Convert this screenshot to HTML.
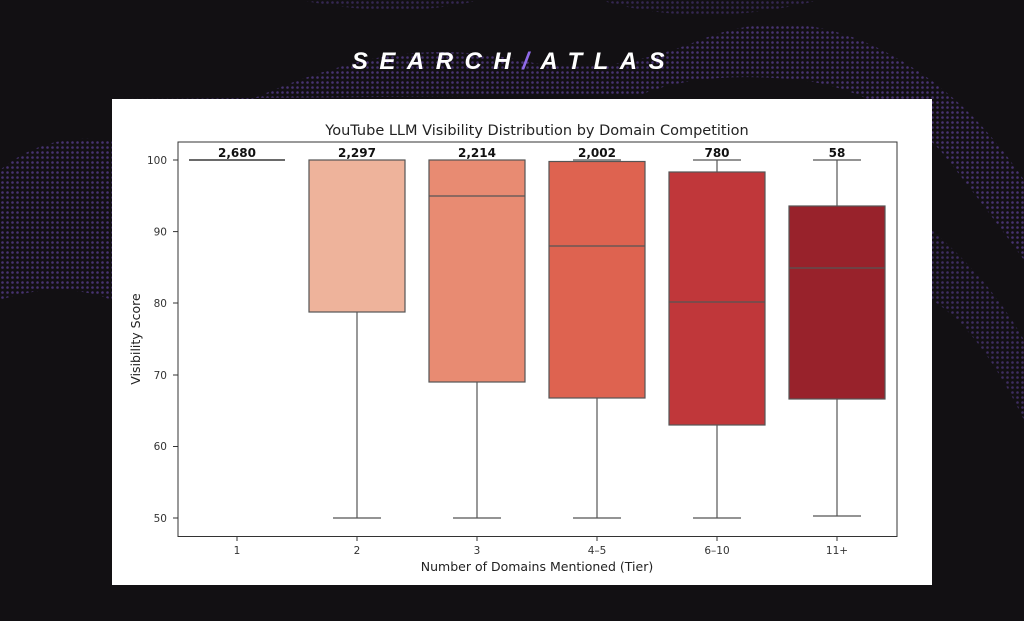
<!DOCTYPE html>
<html><head><meta charset="utf-8"><style>
html,body{margin:0;padding:0;width:1024px;height:621px;overflow:hidden;background:#121013;}
</style></head><body>
<svg width="1024" height="621" viewBox="0 0 1024 621" xmlns="http://www.w3.org/2000/svg" font-family="'DejaVu Sans','Liberation Sans',sans-serif">
<defs>
<pattern id="dots" width="5" height="5" patternUnits="userSpaceOnUse"><circle cx="2.5" cy="2.5" r="1.3" fill="#6a4bb0"/></pattern>
<mask id="m"><rect width="1024" height="621" fill="black"/>
<path d="M0 170 Q60 120 150 150 Q260 90 330 70 Q420 40 520 60 Q600 80 700 40 Q800 0 900 60 Q970 100 1024 180 L1024 260 Q980 200 940 150 Q880 90 800 80 Q700 70 640 95 L112 99 L112 300 Q60 280 0 300 Z" fill="white" opacity="0.6"/>
<path d="M932 300 Q980 330 1024 420 L1024 340 Q990 280 932 230 Z" fill="white" opacity="0.5"/>
<path d="M300 0 Q400 20 480 0 Z M600 0 Q700 30 820 0 Z" fill="white" opacity="0.4"/>
</mask>
</defs>
<rect width="1024" height="621" fill="#121013"/>
<rect width="1024" height="621" fill="url(#dots)" mask="url(#m)"/>
<text x="514" y="69" text-anchor="middle" fill="#ffffff" font-family="'Liberation Sans',sans-serif" font-weight="bold" font-style="italic" font-size="24" letter-spacing="11.5">SEARCH<tspan fill="#8f6ae8">/</tspan>ATLAS</text>
<rect x="112" y="99" width="820" height="486" fill="#ffffff"/>
<text x="537" y="135" text-anchor="middle" font-size="14.5" fill="#222">YouTube LLM Visibility Distribution by Domain Competition</text>
<g stroke="#555" stroke-width="1.2" fill="none">
<line x1="189" y1="160" x2="285" y2="160" stroke-width="1.8"/>
<line x1="357" y1="312" x2="357" y2="518"/><line x1="333" y1="518" x2="381" y2="518"/>
<rect x="309" y="160" width="96" height="152" fill="#eeb39b"/>
<line x1="477" y1="382" x2="477" y2="518"/><line x1="453" y1="518" x2="501" y2="518"/>
<rect x="429" y="160" width="96" height="222" fill="#e88b72"/>
<line x1="429" y1="196" x2="525" y2="196"/>
<line x1="597" y1="398" x2="597" y2="518"/><line x1="573" y1="518" x2="621" y2="518"/><line x1="573" y1="160" x2="621" y2="160"/>
<rect x="549" y="161.5" width="96" height="236.5" fill="#de6350"/>
<line x1="549" y1="246" x2="645" y2="246"/>
<line x1="717" y1="160" x2="717" y2="172"/><line x1="693" y1="160" x2="741" y2="160"/>
<line x1="717" y1="425" x2="717" y2="518"/><line x1="693" y1="518" x2="741" y2="518"/>
<rect x="669" y="172" width="96" height="253" fill="#c0373a"/>
<line x1="669" y1="302" x2="765" y2="302"/>
<line x1="837" y1="160" x2="837" y2="206"/><line x1="813" y1="160" x2="861" y2="160"/>
<line x1="837" y1="399" x2="837" y2="516"/><line x1="813" y1="516" x2="861" y2="516"/>
<rect x="789" y="206" width="96" height="193" fill="#98222b"/>
<line x1="789" y1="268" x2="885" y2="268"/>
</g>
<rect x="178" y="142" width="719" height="394.5" fill="none" stroke="#333" stroke-width="1"/>
<g font-size="10.5" fill="#333" text-anchor="end">
<text x="167" y="164">100</text><text x="167" y="235.5">90</text><text x="167" y="307">80</text><text x="167" y="379">70</text><text x="167" y="450">60</text><text x="167" y="522">50</text>
</g>
<g stroke="#333"><line x1="173" y1="160" x2="178" y2="160"/><line x1="173" y1="231.6" x2="178" y2="231.6"/><line x1="173" y1="303" x2="178" y2="303"/><line x1="173" y1="375" x2="178" y2="375"/><line x1="173" y1="446.5" x2="178" y2="446.5"/><line x1="173" y1="518" x2="178" y2="518"/>
<line x1="237" y1="536" x2="237" y2="541"/><line x1="357" y1="536" x2="357" y2="541"/><line x1="477" y1="536" x2="477" y2="541"/><line x1="597" y1="536" x2="597" y2="541"/><line x1="717" y1="536" x2="717" y2="541"/><line x1="837" y1="536" x2="837" y2="541"/></g>
<g font-size="10.5" fill="#333" text-anchor="middle">
<text x="237" y="554">1</text><text x="357" y="554">2</text><text x="477" y="554">3</text><text x="597" y="554">4–5</text><text x="717" y="554">6–10</text><text x="837" y="554">11+</text>
</g>
<g font-size="12" font-weight="bold" fill="#111" text-anchor="middle">
<text x="237" y="157">2,680</text><text x="357" y="157">2,297</text><text x="477" y="157">2,214</text><text x="597" y="157">2,002</text><text x="717" y="157">780</text><text x="837" y="157">58</text>
</g>
<text x="537" y="571" text-anchor="middle" font-size="12.5" fill="#222">Number of Domains Mentioned (Tier)</text>
<text transform="translate(140,339) rotate(-90)" text-anchor="middle" font-size="12.5" fill="#222">Visibility Score</text>
</svg>
</body></html>
